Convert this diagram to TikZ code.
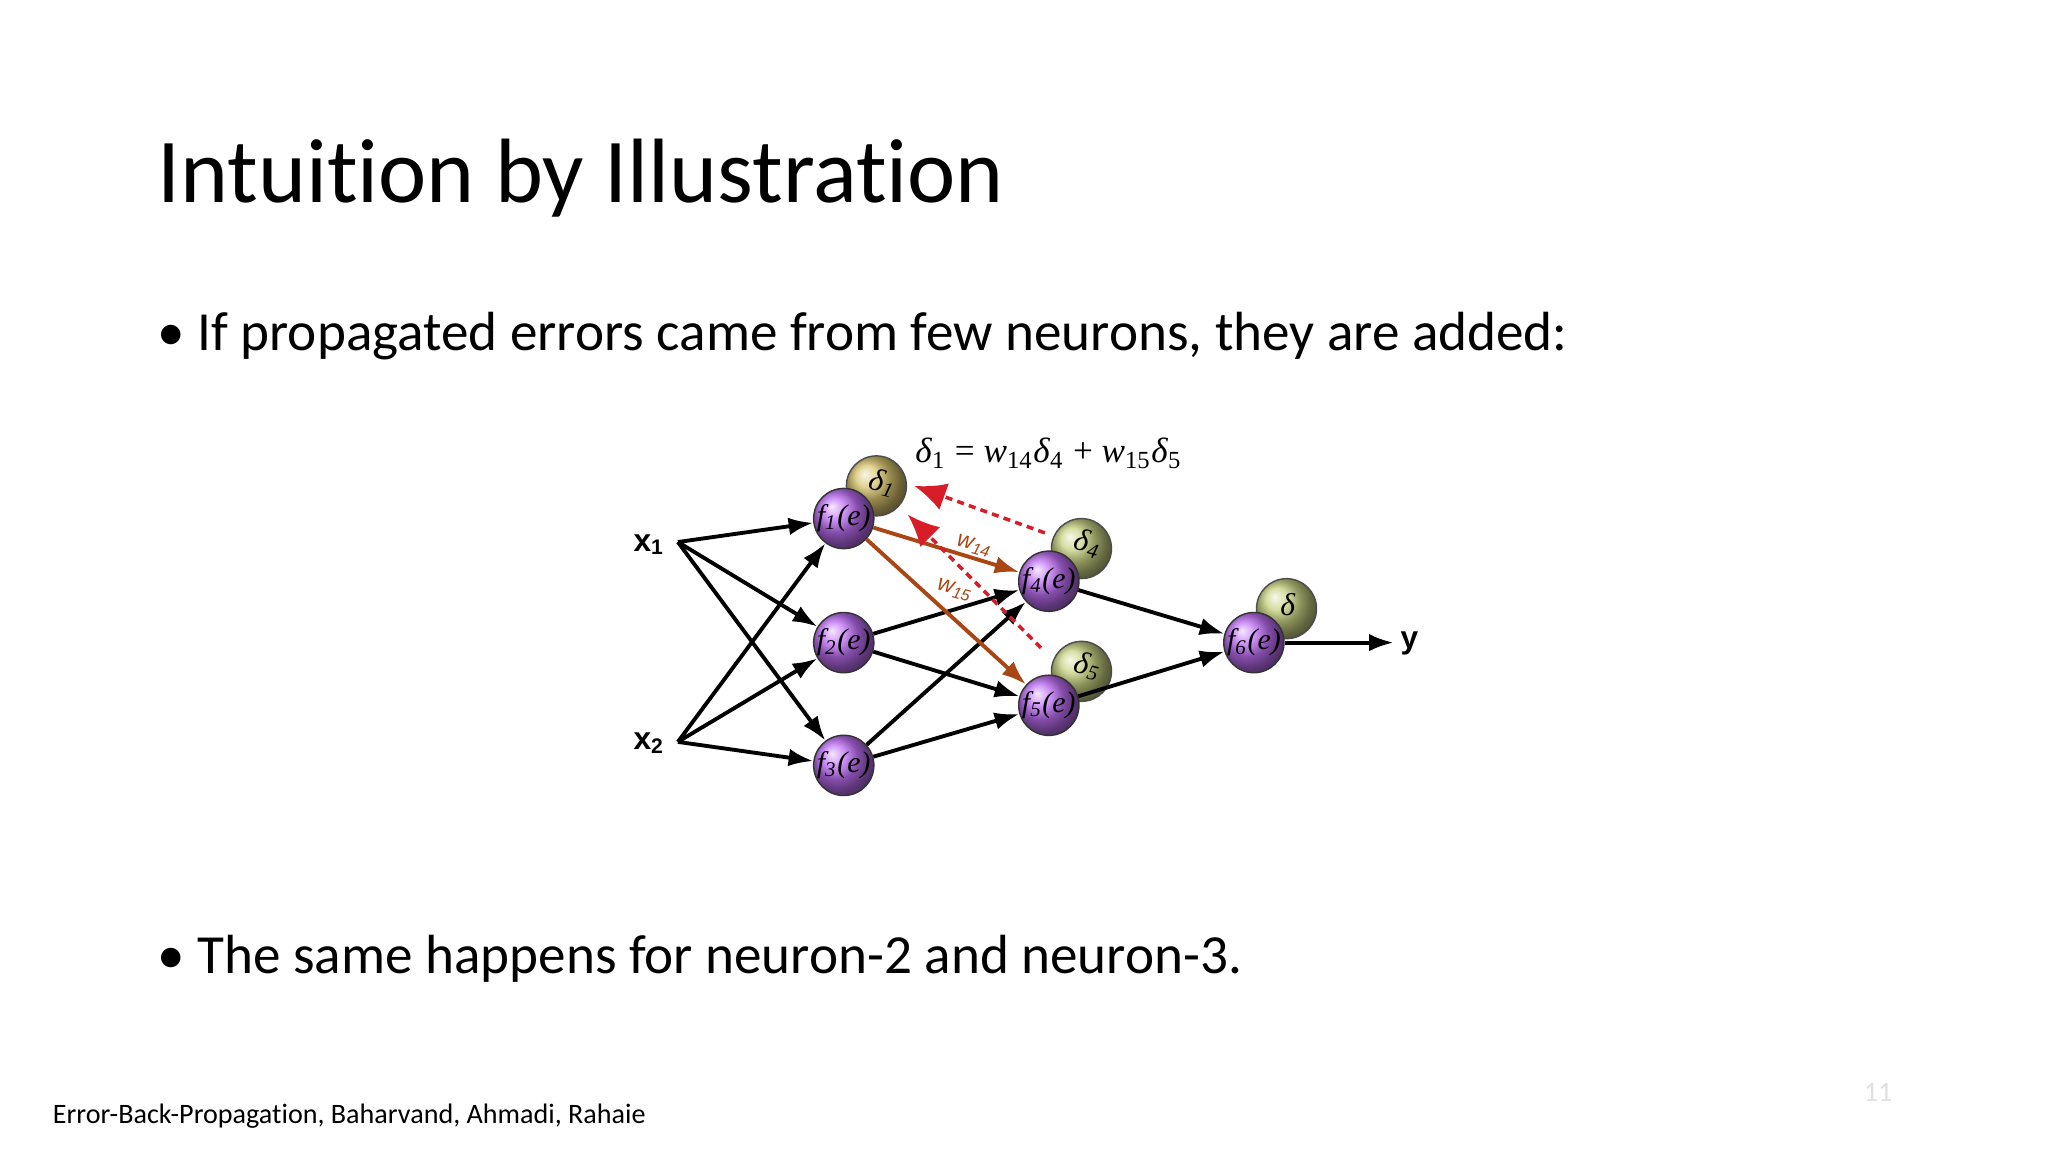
\documentclass[tikz,border=0pt]{standalone}
\usepackage{fontspec}
\setmainfont{Carlito}[RawFeature=-liga]
\newfontfamily\serifx{Liberation Serif}
\newfontfamily\sansx{Liberation Sans}
\usetikzlibrary{arrows.meta}
\definecolor{neur}{RGB}{190,110,245}
\definecolor{dyel}{RGB}{215,195,110}
\definecolor{dgrn}{RGB}{200,210,130}
\definecolor{brw}{RGB}{170,70,20}
\definecolor{rdash}{RGB}{215,30,40}
\newcommand{\sbs}[1]{\textsubscript{#1}}
\begin{document}
\begin{tikzpicture}[x=0.01306cm,y=-0.01306cm,
  neuron/.style={circle,draw=black!80,thin,minimum size=0.6cm,inner sep=0pt,ball color=neur,font=\serifx\itshape\fontsize{8.5}{8.5}\selectfont},
  dball/.style={circle,draw=black!70,thin,minimum size=0.6cm,inner sep=0pt,ball color=#1},
  dtxt/.style={font=\serifx\itshape\fontsize{9}{9}\selectfont,inner sep=0pt},
  conn/.style={-{Latex[length=7pt,width=5pt]},line width=1.1pt,black},
  bconn/.style={-{Latex[length=7pt,width=5pt]},line width=1.1pt,brw},
  rconn/.style={-{Latex[length=9pt,width=8pt]},line width=1pt,rdash,dash pattern=on 2pt off 1.5pt},
  lbl/.style={font=\sansx\bfseries\fontsize{9}{9}\selectfont}]
\useasboundingbox (0,0) rectangle (1568,882);
\fill[white] (0,0) rectangle (1568,882);
\node[anchor=base west,font=\fontsize{26}{26}\selectfont,inner sep=0] (title) at (120,155) {Intuition by Illustration};
\node[anchor=base west,font=\fontsize{15.7}{16}\selectfont,inner sep=0] (b1) at (120,268) {\textbullet\ If propagated errors came from few neurons, they are added:};
\node[anchor=base west,font=\fontsize{15.7}{16}\selectfont,inner sep=0] (b2) at (120,745) {\textbullet\ The same happens for neuron-2 and neuron-3.};
\node[anchor=base west,font=\fontsize{8}{8}\selectfont,inner sep=0] (foot) at (40,860) {Error-Back-Propagation, Baharvand, Ahmadi, Rahaie};
\node[anchor=base,font=\fontsize{8}{8}\selectfont,text=black!12,inner sep=0] (pg) at (1438,843) {11};
% delta balls
\node[dball=dyel] (d1) at (671,372) {};
\node[dball=dgrn] (d4) at (828,420) {};
\node[dball=dgrn] (d5) at (828,514) {};
\node[dball=dgrn] (d6) at (985,466) {};
\node[dtxt,rotate=-15] (t1) at (676,370) {δ\sbs{1}};
\node[dtxt,rotate=-15] (t4) at (833,416) {δ\sbs{4}};
\node[dtxt,rotate=-15] (t5) at (833,510) {δ\sbs{5}};
\node[dtxt] (t6) at (986,463) {δ};
% neurons
\node[neuron] (f1) at (646,397) {f\sbs{1}(e)};
\node[neuron] (f2) at (646,492) {f\sbs{2}(e)};
\node[neuron] (f3) at (646,586) {f\sbs{3}(e)};
\node[neuron] (f4) at (803,445) {f\sbs{4}(e)};
\node[neuron] (f5) at (803,540) {f\sbs{5}(e)};
\node[neuron] (f6) at (960,492) {f\sbs{6}(e)};
\node[lbl] (x1) at (497,417) {x\sbs{1}};
\node[lbl] (x2) at (497,569) {x\sbs{2}};
\coordinate (x1o) at (519,415);
\coordinate (x2o) at (519,568);
\node[lbl] (y) at (1079,493) {y};
\coordinate (yo) at (1067,492);
\node[font=\serifx\fontsize{10}{10}\selectfont] (eq) at (803,347) {\textit{δ}\sbs{1} = \textit{w}\sbs{14}\textit{δ}\sbs{4} + \textit{w}\sbs{15}\textit{δ}\sbs{5}};
% connections
\foreach \s in {x1o,x2o}{\foreach \t in {f1,f2,f3}{\draw[conn] (\s) -- (\t);}}
\draw[conn] (f2) -- (f4); \draw[conn] (f2) -- (f5);
\draw[conn] (f3) -- (f4); \draw[conn] (f3) -- (f5);
\draw[conn] (f4) -- (f6); \draw[conn] (f5) -- (f6);
\draw[conn] (f6) -- (yo);
\draw[bconn] (f1) -- (f4);
\draw[bconn] (f1) -- (f5);
\node[font=\sansx\itshape\fontsize{6.5}{6.5}\selectfont,text=brw,rotate=-15] (w14) at (746,418) {w\sbs{14}};
\node[font=\sansx\itshape\fontsize{6.5}{6.5}\selectfont,text=brw,rotate=-15] (w15) at (731,452) {w\sbs{15}};
\coordinate (r1s) at (800,408); \coordinate (r1e) at (700,372);
\coordinate (r2s) at (797,496); \coordinate (r2e) at (695,394);
\draw[rconn] (r1s) -- (r1e);
\draw[rconn] (r2s) -- (r2e);
\end{tikzpicture}
\end{document}
